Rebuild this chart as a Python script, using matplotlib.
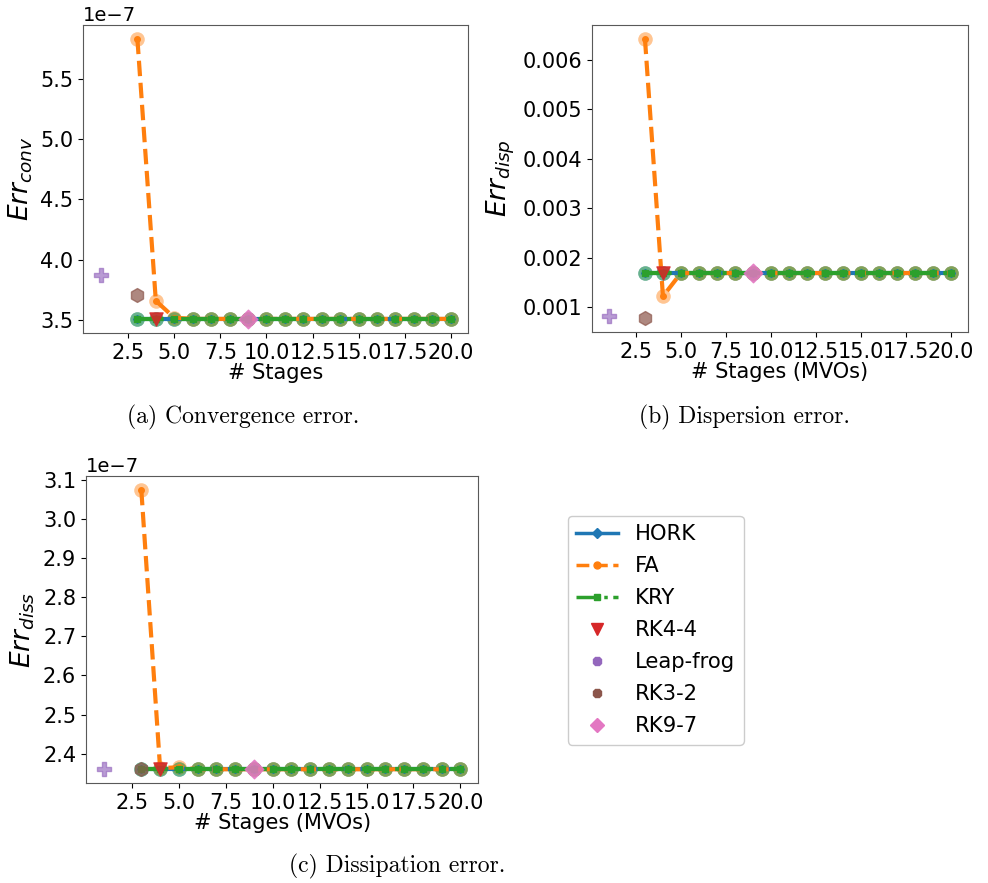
import numpy as np
import matplotlib
matplotlib.use("Agg")
import matplotlib.pyplot as plt
from matplotlib.lines import Line2D
from matplotlib.ticker import MultipleLocator, FormatStrFormatter

# Stage counts for the scalable schemes
stages = [float(s) for s in range(3, 21)]

# (a) convergence error
conv_hork = [3.51e-7] * 18
conv_fa = [5.83e-7, 3.66e-7, 3.52e-7] + [3.51e-7] * 15
conv_kry = [3.51e-7] * 18
conv_rk44 = (4, 3.51e-7)
conv_leap = (1, 3.87e-7)
conv_rk32 = (3, 3.71e-7)
conv_rk97 = (9, 3.51e-7)

# (b) dispersion error
disp_hork = [0.00169] * 18
disp_fa = [0.00643, 0.00122] + [0.00169] * 16
disp_kry = [0.00169] * 18
disp_rk44 = (4, 0.00169)
disp_leap = (1, 0.00083)
disp_rk32 = (3, 0.00078)
disp_rk97 = (9, 0.00169)

# (c) dissipation error
diss_hork = [2.36e-7] * 18
diss_fa = [3.075e-7, 2.363e-7, 2.365e-7] + [2.36e-7] * 15
diss_kry = [2.36e-7] * 18
diss_rk44 = (4, 2.36e-7)
diss_leap = (1, 2.36e-7)
diss_rk32 = (3, 2.36e-7)
diss_rk97 = (9, 2.36e-7)

C_BLUE, C_ORANGE, C_GREEN = "#1f77b4", "#ff7f0e", "#2ca02c"
C_RED, C_PURPLE, C_BROWN, C_PINK = "#d62728", "#9467bd", "#8c564b", "#e377c2"

fig = plt.figure(figsize=(9.88, 8.83), dpi=100)


def panel(rect, hork, fa, kry, rk44, leap, rk32, rk97, ylabel, xlabel, ystep):
    ax = fig.add_axes(rect)
    for y, c, ls, mk in [(hork, C_BLUE, "-", "D"),
                         (fa, C_ORANGE, "--", "o"),
                         (kry, C_GREEN, "-.", "s")]:
        ax.scatter(stages, y, s=110, color=c, alpha=0.45, lw=0, zorder=2)
        ax.plot(stages, y, ls, color=c, lw=3, marker=mk, ms=4, zorder=3)
    ax.scatter(*rk44, marker="v", s=90, color=C_RED, alpha=0.85, zorder=4)
    ax.scatter(*leap, marker="P", s=90, color=C_PURPLE, alpha=0.65, zorder=4)
    ax.scatter(*rk32, marker="h", s=100, color=C_BROWN, alpha=0.7, zorder=4)
    ax.scatter(*rk97, marker="D", s=90, color=C_PINK, alpha=0.85, zorder=4)
    ax.set_ylabel(ylabel, fontsize=19)
    ax.set_xlabel(xlabel, fontsize=15, labelpad=0)
    ax.xaxis.set_major_locator(MultipleLocator(2.5))
    ax.xaxis.set_major_formatter(FormatStrFormatter("%.1f"))
    ax.yaxis.set_major_locator(MultipleLocator(ystep))
    ax.tick_params(labelsize=15)
    ax.yaxis.get_offset_text().set_fontsize(14)
    for s in ax.spines.values():
        s.set_color("0.35")
    return ax


ax_a = panel([0.084, 0.623, 0.390, 0.349], conv_hork, conv_fa, conv_kry,
             conv_rk44, conv_leap, conv_rk32, conv_rk97,
             r"$Err_{conv}$", "# Stages", 0.5e-7)
ax_b = panel([0.599, 0.624, 0.381, 0.348], disp_hork, disp_fa, disp_kry,
             disp_rk44, disp_leap, disp_rk32, disp_rk97,
             r"$Err_{disp}$", "# Stages (MVOs)", 0.001)
ax_c = panel([0.087, 0.113, 0.397, 0.348], diss_hork, diss_fa, diss_kry,
             diss_rk44, diss_leap, diss_rk32, diss_rk97,
             r"$Err_{diss}$", "# Stages (MVOs)", 0.1e-7)

handles = [
    Line2D([], [], color=C_BLUE, ls="-", lw=2.5, marker="D", ms=5),
    Line2D([], [], color=C_ORANGE, ls="--", lw=2.5, marker="o", ms=5),
    Line2D([], [], color=C_GREEN, ls="-.", lw=2.5, marker="s", ms=5),
    Line2D([], [], color=C_RED, ls="none", marker="v", ms=8),
    Line2D([], [], color=C_PURPLE, ls="none", marker="8", ms=7),
    Line2D([], [], color=C_BROWN, ls="none", marker="8", ms=7),
    Line2D([], [], color=C_PINK, ls="none", marker="D", ms=7),
]
labels = ["HORK", "FA", "KRY", "RK4-4", "Leap-frog", "RK3-2", "RK9-7"]
fig.legend(handles, labels, loc="upper left",
           bbox_to_anchor=(557 / 988, 1 - 505 / 883),
           fontsize=15.2, handlelength=2.0, labelspacing=0.57,
           borderpad=0.4, framealpha=1)

cap = dict(family="cmr10", fontsize=17, ha="center", va="center")
fig.text(243 / 988, 1 - 417 / 883, "(a) Convergence error.", **cap)
fig.text(744 / 988, 1 - 417 / 883, "(b) Dispersion error.", **cap)
fig.text(397 / 988, 1 - 866 / 883, "(c) Dissipation error.", **cap)

fig.savefig("out.png", dpi=100)
